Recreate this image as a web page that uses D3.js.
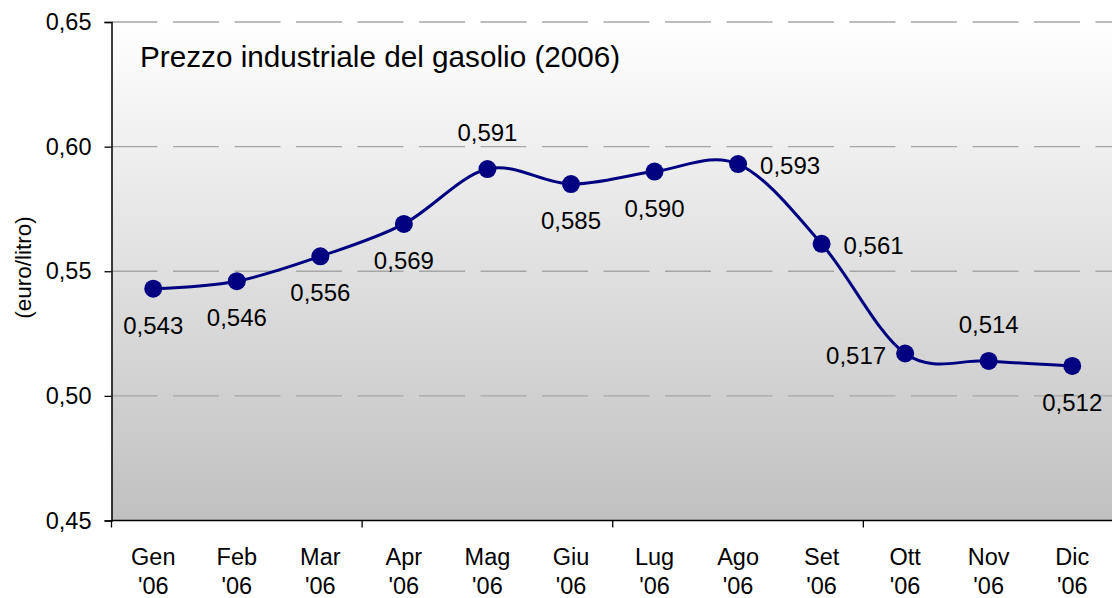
<!DOCTYPE html>
<html>
<head>
<meta charset="utf-8">
<script src="https://cdn.jsdelivr.net/npm/d3@7"></script>
<style>
  body { margin: 0; background: #fff; }
  text { font-family: "Liberation Sans", Arial, sans-serif; fill: #000; }
</style>
</head>
<body>
<div id="chart"></div>
<script>
var months = ["Gen", "Feb", "Mar", "Apr", "Mag", "Giu", "Lug", "Ago", "Set", "Ott", "Nov", "Dic"];
var prices = [0.543, 0.546, 0.556, 0.569, 0.591, 0.585, 0.590, 0.593, 0.561, 0.517, 0.514, 0.512];
var yTicks = [0.45, 0.50, 0.55, 0.60, 0.65];
var yearLabel = "'06";
var title = "Prezzo industriale del gasolio (2006)";
var yTitle = "(euro/litro)";

// where each data label sits relative to its point
var labelPos = ["below", "below", "below", "below", "above", "below", "below", "right", "right", "left", "above", "below"];

var graphD = { width: 1112, height: 598, left: 111.5, right: 1114, top: 22, bottom: 520.5 };

var svg = d3.select("#chart").append("svg")
  .attr("width", graphD.width)
  .attr("height", graphD.height);

var grad = svg.append("defs").append("linearGradient")
  .attr("id", "bg").attr("x1", 0).attr("y1", 0).attr("x2", 0).attr("y2", 1);
grad.append("stop").attr("offset", "0%").attr("stop-color", "#ffffff");
grad.append("stop").attr("offset", "100%").attr("stop-color", "#c0c0c0");

var xScale = d3.scaleBand().domain(months).range([graphD.left, graphD.right]);
var yScale = d3.scaleLinear().domain([0.45, 0.65]).range([graphD.bottom, graphD.top]);
var fmt = function(v, dec) { return v.toFixed(dec).replace(".", ","); };

svg.append("rect")
  .attr("x", graphD.left).attr("y", graphD.top)
  .attr("width", graphD.right - graphD.left)
  .attr("height", graphD.bottom - graphD.top)
  .attr("fill", "url(#bg)");

// dashed gridlines
svg.append("g").selectAll("line")
  .data(yTicks.slice(1))
  .enter().append("line")
  .attr("x1", graphD.left).attr("x2", graphD.right)
  .attr("y1", function(d) { return yScale(d); })
  .attr("y2", function(d) { return yScale(d); })
  .attr("stroke", "#a6a6a6")
  .attr("stroke-width", 1.3)
  .attr("stroke-dasharray", "46,15.5");

// y axis
var yAxis = d3.axisLeft(yScale).tickValues(yTicks).tickSize(7).tickPadding(13)
  .tickFormat(function(d) { return fmt(d, 2); });
var gy = svg.append("g").attr("transform", "translate(" + graphD.left + ",0)").call(yAxis);
gy.select(".domain").attr("stroke", "#000").attr("stroke-width", 1.5);
gy.selectAll(".tick line").attr("stroke", "#000").attr("stroke-width", 1.3);
gy.selectAll(".tick text").style("font-size", "23.5px").attr("font-family", null);

// x axis: tick marks every third month, labels on two lines
var xTickPos = d3.range(0, months.length + 1, 3).map(function(i) {
  return graphD.left + i * xScale.bandwidth();
});
svg.append("line")
  .attr("x1", graphD.left).attr("x2", graphD.right)
  .attr("y1", graphD.bottom).attr("y2", graphD.bottom)
  .attr("stroke", "#000").attr("stroke-width", 1.5);
svg.append("g").selectAll("line")
  .data(xTickPos)
  .enter().append("line")
  .attr("x1", function(d) { return d; }).attr("x2", function(d) { return d; })
  .attr("y1", graphD.bottom).attr("y2", graphD.bottom + 7)
  .attr("stroke", "#000").attr("stroke-width", 1.3);

var xl = svg.append("g").selectAll("text")
  .data(months)
  .enter().append("text")
  .attr("text-anchor", "middle")
  .style("font-size", "23.5px");
xl.append("tspan")
  .attr("x", function(d) { return xScale(d) + xScale.bandwidth() / 2; })
  .attr("y", 564.5)
  .text(function(d) { return d; });
xl.append("tspan")
  .attr("x", function(d) { return xScale(d) + xScale.bandwidth() / 2; })
  .attr("y", 593.5)
  .text(yearLabel);

// line and markers
var cx = function(d, i) { return xScale(months[i]) + xScale.bandwidth() / 2; };
var line1 = d3.line()
  .x(cx)
  .y(function(d) { return yScale(d); })
  .curve(d3.curveCardinal.tension(0));

svg.append("path")
  .attr("d", line1(prices))
  .attr("fill", "none")
  .attr("stroke", "#000080")
  .attr("stroke-width", 3);

svg.append("g").selectAll("circle")
  .data(prices)
  .enter().append("circle")
  .attr("cx", cx)
  .attr("cy", function(d) { return yScale(d); })
  .attr("r", 9)
  .attr("fill", "#000080");

// data labels
svg.append("g").selectAll("text")
  .data(prices)
  .enter().append("text")
  .style("font-size", "24px")
  .attr("text-anchor", function(d, i) {
    return labelPos[i] == "right" ? "start" : (labelPos[i] == "left" ? "end" : "middle");
  })
  .attr("x", function(d, i) {
    var p = labelPos[i];
    return cx(d, i) + (p == "right" ? 22 : (p == "left" ? -19 : 0));
  })
  .attr("y", function(d, i) {
    var p = labelPos[i];
    var off = p == "below" ? 45 : (p == "above" ? -28 : 10);
    return yScale(d) + off;
  })
  .text(function(d) { return fmt(d, 3); });

// titles
svg.append("text")
  .attr("x", 140).attr("y", 67)
  .style("font-size", "29.7px")
  .text(title);

svg.append("text")
  .attr("transform", "translate(31,267.5) rotate(-90)")
  .attr("text-anchor", "middle")
  .style("font-size", "22.5px")
  .text(yTitle);
</script>
</body>
</html>
